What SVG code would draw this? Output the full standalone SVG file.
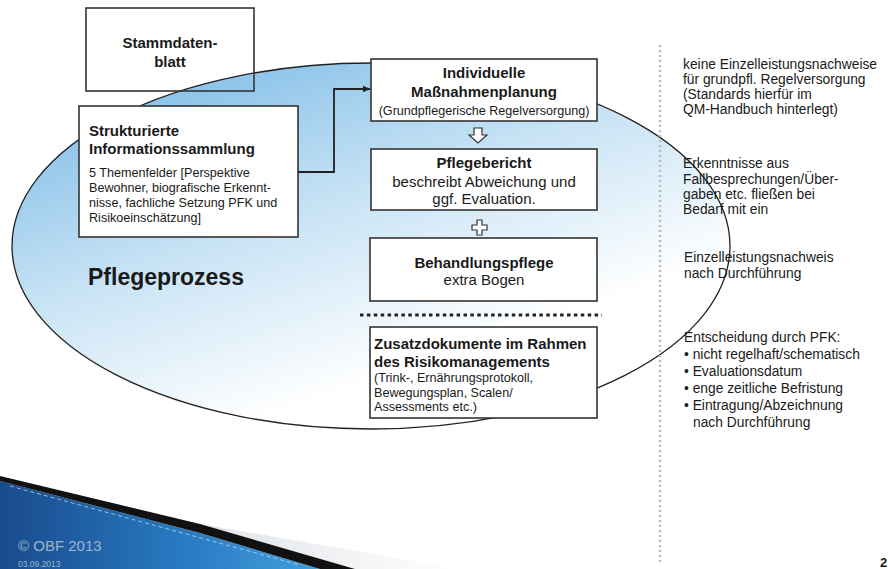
<svg xmlns="http://www.w3.org/2000/svg" width="888" height="569" viewBox="0 0 888 569">
<style>
text{font-family:"Liberation Sans",Arial,sans-serif;fill:#1a1a1a}
.b{font-weight:bold;font-size:15px}
.r{font-size:15px}
.s{font-size:12.6px}
.rt{font-size:13.8px}
.box{fill:#fff;stroke:#333;stroke-width:1.6}
.c{text-anchor:middle}
</style>
<defs>
<linearGradient id="eg" x1="0" y1="0.1" x2="0.6" y2="1">
<stop offset="0" stop-color="#7cbbe6"/>
<stop offset="0.45" stop-color="#c8e3f5"/>
<stop offset="0.85" stop-color="#ffffff"/>
</linearGradient>
<linearGradient id="sw" x1="0" y1="0" x2="1" y2="0">
<stop offset="0" stop-color="#184b8c"/>
<stop offset="0.6" stop-color="#2a7cc4"/>
<stop offset="1" stop-color="#43a0dc"/>
</linearGradient>
<linearGradient id="fade" x1="0" y1="0" x2="1" y2="0">
<stop offset="0" stop-color="#d8dde3"/>
<stop offset="1" stop-color="#ffffff"/>
</linearGradient>
<marker id="ah" markerWidth="8" markerHeight="8" refX="7" refY="4" orient="auto" markerUnits="userSpaceOnUse">
<path d="M0,0.8 L7.5,4 L0,7.2 Z" fill="#222"/>
</marker>
</defs>
<rect width="888" height="569" fill="#fff"/>

<g id="ellipse">
<ellipse cx="371" cy="246" rx="359" ry="183" fill="url(#eg)" stroke="#222" stroke-width="1.3"/>
<text x="88" y="285" style="font-weight:bold;font-size:23px">Pflegeprozess</text>
</g>

<g id="stammdaten">
<rect x="86" y="8" width="168" height="83" fill="none" stroke="#333" stroke-width="1.6"/>
<text class="b c" x="170" y="48">Stammdaten-</text>
<text class="b c" x="170" y="67">blatt</text>
</g>

<g id="connectors">
<path d="M298,172 H334 V89 H370" fill="none" stroke="#222" stroke-width="1.8" marker-end="url(#ah)"/>
<path d="M474,128 H482 V135 H487 L478,143 L469,135 H474 Z" fill="#fff" stroke="#333" stroke-width="1.2"/>
<path d="M477,220 H482 V225 H487 V230 H482 V235 H477 V230 H472 V225 H477 Z" fill="#fff" stroke="#333" stroke-width="1.2"/>
<line x1="360" y1="315" x2="602" y2="315" stroke="#222" stroke-width="3" stroke-dasharray="3.5 3.4"/>
<line x1="660" y1="45" x2="660" y2="565" stroke="#bbb" stroke-width="2.5" stroke-dasharray="2 3"/>
</g>

<g id="strukturierte">
<rect class="box" x="79" y="106" width="219" height="131"/>
<text class="b" x="89" y="136">Strukturierte</text>
<text class="b" x="89" y="154">Informationssammlung</text>
<text class="s" x="89" y="177">5 Themenfelder [Perspektive</text>
<text class="s" x="89" y="192">Bewohner, biografische Erkennt-</text>
<text class="s" x="89" y="207">nisse, fachliche Setzung PFK und</text>
<text class="s" x="89" y="222">Risikoeinschätzung]</text>
</g>

<g id="massnahmen">
<rect class="box" x="371" y="59" width="226" height="62"/>
<text class="b c" x="484" y="78">Individuelle</text>
<text class="b c" x="484" y="97">Maßnahmenplanung</text>
<text class="s c" x="484" y="115">(Grundpflegerische Regelversorgung)</text>
</g>

<g id="pflegebericht">
<rect class="box" x="371" y="149" width="226" height="61"/>
<text class="b c" x="484" y="168">Pflegebericht</text>
<text class="r c" x="484" y="187">beschreibt Abweichung und</text>
<text class="r c" x="484" y="204">ggf. Evaluation.</text>
</g>

<g id="behandlung">
<rect class="box" x="370" y="238" width="227" height="63"/>
<text class="b c" x="484" y="268">Behandlungspflege</text>
<text class="r c" x="484" y="285">extra Bogen</text>
</g>

<g id="zusatz">
<rect class="box" x="370" y="327" width="227" height="91"/>
<text class="b" x="374" y="349">Zusatzdokumente im Rahmen</text>
<text class="b" x="374" y="367">des Risikomanagements</text>
<text class="s" x="374" y="382">(Trink-, Ernährungsprotokoll,</text>
<text class="s" x="374" y="397">Bewegungsplan, Scalen/</text>
<text class="s" x="374" y="411">Assessments etc.)</text>
</g>

<g id="notes">
<text class="rt" x="683" y="69">keine Einzelleistungsnachweise</text>
<text class="rt" x="683" y="84">für grundpfl. Regelversorgung</text>
<text class="rt" x="683" y="99">(Standards hierfür im</text>
<text class="rt" x="683" y="114">QM-Handbuch hinterlegt)</text>
<text class="rt" x="683" y="168">Erkenntnisse aus</text>
<text class="rt" x="683" y="183.5">Fallbesprechungen/Über-</text>
<text class="rt" x="683" y="199">gaben etc. fließen bei</text>
<text class="rt" x="683" y="214">Bedarf mit ein</text>
<text class="rt" x="684" y="262">Einzelleistungsnachweis</text>
<text class="rt" x="684" y="278">nach Durchführung</text>
<text class="rt" x="684" y="342">Entscheidung durch PFK:</text>
<text class="rt" x="684" y="359">• nicht regelhaft/schematisch</text>
<text class="rt" x="684" y="376">• Evaluationsdatum</text>
<text class="rt" x="684" y="393">• enge zeitliche Befristung</text>
<text class="rt" x="684" y="410">• Eintragung/Abzeichnung</text>
<text class="rt" x="693" y="427">nach Durchführung</text>
</g>

<g id="footer">
<polygon points="200,524 460,569 355,569" fill="url(#fade)" opacity="0.8"/>
<polygon points="0,481 200,533 320,569 0,569" fill="url(#sw)"/>
<polygon points="0,476 200,524 355,569 320,569 200,533 0,481" fill="#111"/>
<line x1="10" y1="486" x2="300" y2="565" stroke="#cfe3f3" stroke-width="1" stroke-dasharray="4 3" opacity="0.7"/>
<text x="18" y="551" style="font-size:15px;fill:#9fb4cc">© OBF 2013</text>
<text x="18" y="567" style="font-size:8.5px;fill:#9fb4cc">03.09.2013</text>
<text x="880" y="567" style="font-weight:bold;font-size:13px">2</text>
</g>
</svg>
